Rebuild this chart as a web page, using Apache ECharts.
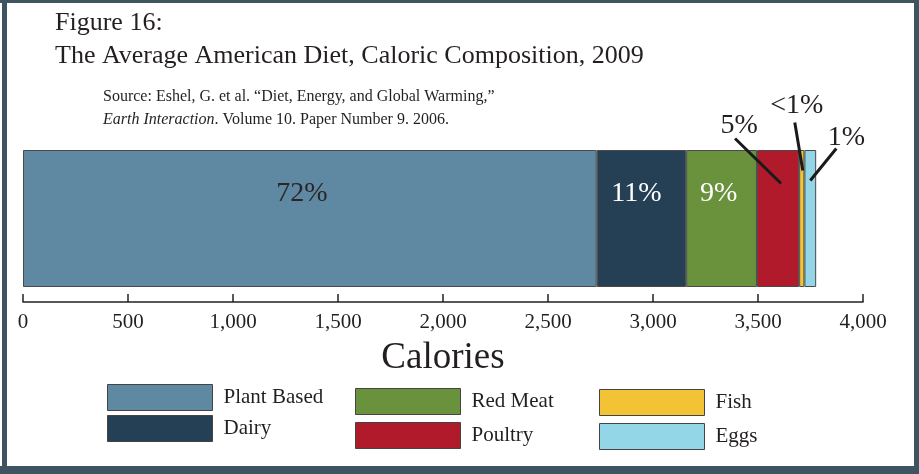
<!DOCTYPE html>
<html><head><meta charset="utf-8">
<script src="https://cdn.jsdelivr.net/npm/echarts@6/dist/echarts.min.js"></script>
<style>html,body{margin:0;padding:0;background:#fff}#c{width:919px;height:474px}</style>
</head><body><div id="c"></div>
<script>
// ---- data ----
var categories = ['2009'];
var seriesNames = ['Plant Based', 'Dairy', 'Red Meat', 'Poultry', 'Fish', 'Eggs'];
var calories = [2732, 426, 337, 201, 25, 56];
var pctLabels = ['72%', '11%', '9%', '5%', '<1%', '1%'];
var xTicks = [0, 500, 1000, 1500, 2000, 2500, 3000, 3500, 4000];

// ---- styles ----
var colors = ['#5f88a3', '#253f55', '#6a923d', '#b01a2a', '#f2c335', '#92d6e7'];
var labelColors = ['#2a2626', '#ffffff', '#ffffff'];
var labelDx = [-8, -5, -3];
var FONT = 'Liberation Serif';
var INK = '#231f20';
// callouts for the small segments: offsets in px from the segment's centre
var callouts = {
  3: {text: [-39, -93], from: [-43, -80], to: [3, -35]},
  4: {text: [-5, -113], from: [-7, -96], to: [1, -48]},
  5: {text: [36, -81], from: [26, -70], to: [0, -38]}
};

var chart = echarts.init(document.getElementById('c'), null, {renderer: 'canvas'});

var series = seriesNames.map(function (name, i) {
  return {
    name: name,
    type: 'bar',
    stack: 'diet',
    barWidth: '100%',
    data: [calories[i]],
    itemStyle: {color: colors[i], borderColor: '#4a4a4a', borderWidth: 1},
    label: {
      show: i < 3,
      position: 'inside',
      offset: [labelDx[i] || 0, -25],
      formatter: pctLabels[i],
      color: labelColors[i] || INK,
      fontFamily: FONT,
      fontSize: 28
    },
    emphasis: {disabled: true},
    animation: false
  };
});

function legend(names, left, top, gap) {
  return {
    data: names,
    orient: 'vertical',
    left: left, top: top,
    padding: 0,
    itemWidth: 105, itemHeight: 26, itemGap: gap,
    icon: 'rect',
    selectedMode: false,
    itemStyle: {borderColor: '#444', borderWidth: 1},
    textStyle: {fontFamily: FONT, fontSize: 21, color: INK, padding: [0, 0, 0, 6]}
  };
}

chart.setOption({
  animation: false,
  title: [
    {
      text: 'Figure 16:\nThe Average American Diet, Caloric Composition, 2009',
      left: 55, top: 7, padding: 0,
      textStyle: {fontFamily: FONT, fontSize: 26, fontWeight: 'normal', color: INK, lineHeight: 33}
    },
    {
      text: 'Source: Eshel, G. et al. \u201cDiet, Energy, and Global Warming,\u201d\n{i|Earth Interaction}. Volume 10. Paper Number 9. 2006.',
      left: 103, top: 85, padding: 0,
      textStyle: {
        fontFamily: FONT, fontSize: 16, fontWeight: 'normal', color: INK, lineHeight: 23,
        rich: {i: {fontFamily: FONT, fontSize: 16, fontStyle: 'italic', color: INK, lineHeight: 23}}
      }
    }
  ],
  legend: [
    legend(['Plant Based', 'Dairy'], 107, 384, 4),
    legend(['Red Meat', 'Poultry'], 355, 388, 7),
    legend(['Fish', 'Eggs'], 599, 389, 7)
  ],
  grid: {left: 23, right: 56, top: 150, height: 137, containLabel: false},
  xAxis: {
    type: 'value',
    min: xTicks[0], max: xTicks[xTicks.length - 1],
    interval: xTicks[1] - xTicks[0],
    offset: 15,
    name: 'Calories',
    nameLocation: 'middle',
    nameGap: 38,
    nameTextStyle: {fontFamily: FONT, fontSize: 37, color: INK},
    axisLine: {show: true, lineStyle: {color: '#222', width: 1.5}},
    axisTick: {show: true, inside: true, length: 8, lineStyle: {color: '#222', width: 1.5}},
    splitLine: {show: false},
    axisLabel: {
      fontFamily: FONT, fontSize: 21, color: INK, margin: 10,
      formatter: function (v) { return v.toLocaleString('en-US'); }
    }
  },
  yAxis: {type: 'category', data: categories, show: false},
  series: series
});

// frame + callouts
var graphics = [
  {type: 'rect', shape: {x: 0, y: 0, width: 919, height: 3}, style: {fill: '#3e5561'}, z: 100},
  {type: 'rect', shape: {x: 2, y: 0, width: 5, height: 474}, style: {fill: '#3e5561'}, z: 100},
  {type: 'rect', shape: {x: 914, y: 0, width: 5, height: 474}, style: {fill: '#3e5561'}, z: 100},
  {type: 'rect', shape: {x: 0, y: 466, width: 919, height: 8}, style: {fill: '#3e5561'}, z: 100}
];
var cum = 0;
calories.forEach(function (v, i) {
  var mid = cum + v / 2;
  cum += v;
  var c = callouts[i];
  if (!c) return;
  var p = chart.convertToPixel({gridIndex: 0}, [mid, categories[0]]);
  graphics.push({
    type: 'line', z: 50,
    shape: {x1: p[0] + c.from[0], y1: p[1] + c.from[1], x2: p[0] + c.to[0], y2: p[1] + c.to[1]},
    style: {stroke: '#1a1a1a', lineWidth: 3}
  });
  graphics.push({
    type: 'text', z: 50,
    x: p[0] + c.text[0], y: p[1] + c.text[1],
    style: {text: pctLabels[i], fontFamily: FONT, fontSize: 28, fill: INK, align: 'center', verticalAlign: 'middle'}
  });
});
chart.setOption({graphic: graphics});
</script>
</body></html>
